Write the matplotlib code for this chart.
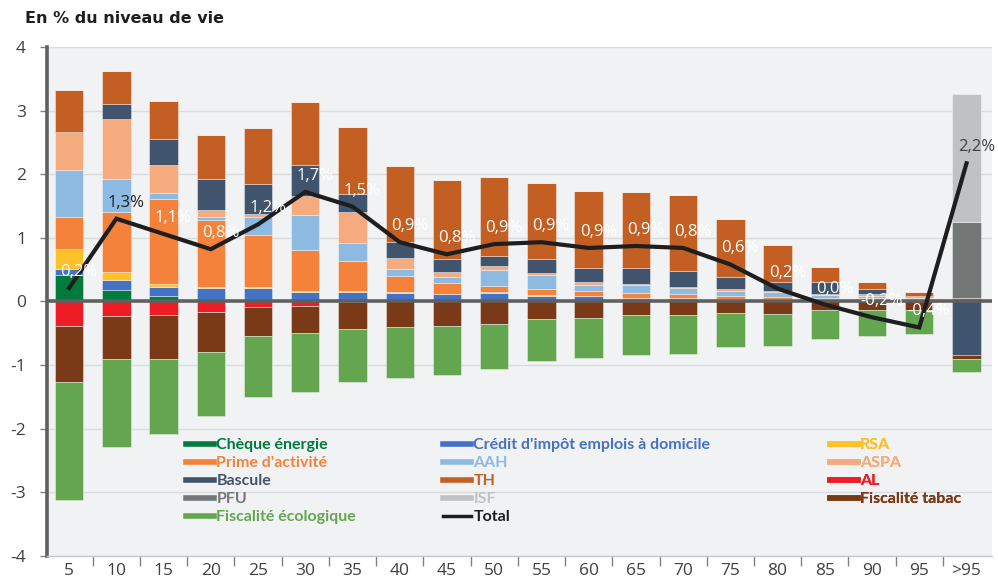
import matplotlib.pyplot as plt
from matplotlib.lines import Line2D
import numpy as np

plt.rcParams['axes.unicode_minus'] = False

# categories (centiles of niveau de vie)
categories = ['5', '10', '15', '20', '25', '30', '35', '40', '45', '50',
              '55', '60', '65', '70', '75', '80', '85', '90', '95', '>95']

# components, in % of niveau de vie
cheque  = [0.41, 0.18, 0.08, 0.02, 0.02, 0, 0, 0, 0, 0, 0, 0, 0, 0, 0, 0, 0, 0, 0, 0]
credit  = [0.10, 0.16, 0.15, 0.19, 0.19, 0.14, 0.14, 0.13, 0.11, 0.13,
           0.09, 0.08, 0.05, 0.05, 0.04, 0.04, 0.03, 0.03, 0.02, 0]
rsa     = [0.32, 0.125, 0.05, 0.02, 0.02, 0.03, 0.03, 0.01, 0.01, 0.01,
           0.01, 0.01, 0.01, 0, 0, 0, 0, 0, 0, 0]
prime   = [0.50, 0.94, 1.33, 1.05, 0.81, 0.63, 0.47, 0.26, 0.17, 0.10,
           0.10, 0.07, 0.07, 0.06, 0.04, 0.03, 0.02, 0.02, 0.02, 0.02]
aah     = [0.74, 0.52, 0.09, 0.04, 0.28, 0.56, 0.27, 0.11, 0.10, 0.25,
           0.22, 0.10, 0.12, 0.10, 0.09, 0.07, 0.05, 0.04, 0.01, 0]
aspa    = [0.57, 0.94, 0.44, 0.11, 0.06, 0.30, 0.49, 0.17, 0.07, 0.07,
           0.02, 0.04, 0.02, 0.01, 0.02, 0.02, 0.02, 0.02, 0.02, 0]
bascule = [0.02, 0.23, 0.41, 0.49, 0.47, 0.49, 0.29, 0.26, 0.21, 0.16,
           0.23, 0.22, 0.25, 0.25, 0.19, 0.15, 0.18, 0.09, 0.02, -0.85]
th      = [0.66, 0.52, 0.60, 0.70, 0.87, 0.99, 1.05, 1.19, 1.23, 1.23,
           1.19, 1.21, 1.20, 1.20, 0.92, 0.58, 0.24, 0.10, 0.05, 0.04]
pfu     = [0, 0, 0, 0, 0, 0, 0, 0, 0, 0, 0, 0, 0, 0, 0, 0, 0, 0, 0, 1.19]
isf     = [0, 0, 0, 0, 0, 0, 0, 0, 0, 0, 0, 0, 0, 0, 0, 0, 0, 0, 0, 2.01]
al      = [-0.39, -0.235, -0.22, -0.17, -0.09, -0.07, -0.01, 0, 0, 0,
           0, 0, 0, 0, 0, 0, 0, 0, 0, 0]
tabac   = [-0.88, -0.67, -0.69, -0.62, -0.45, -0.42, -0.42, -0.40, -0.38, -0.35,
           -0.28, -0.26, -0.21, -0.22, -0.19, -0.20, -0.13, -0.13, -0.13, -0.05]
ecolo   = [-1.85, -1.39, -1.18, -1.01, -0.97, -0.94, -0.84, -0.80, -0.77, -0.71,
           -0.65, -0.63, -0.63, -0.60, -0.53, -0.50, -0.46, -0.42, -0.39, -0.21]

total = [0.21, 1.30, 1.06, 0.82, 1.21, 1.72, 1.49, 0.93, 0.74, 0.90,
         0.93, 0.84, 0.87, 0.84, 0.58, 0.20, -0.05, -0.25, -0.41, 2.17]
total_labels = ['0,2%', '1,3%', '1,1%', '0,8%', '1,2%', '1,7%', '1,5%', '0,9%', '0,8%', '0,9%',
                '0,9%', '0,9%', '0,9%', '0,8%', '0,6%', '0,2%', '0,0%', '-0,2%', '-0,4%', '2,2%']

colors = {
    'Chèque énergie': '#007A3D',
    "Crédit d'impôt emplois à domicile": '#4472C4',
    'RSA': '#FFC12A',
    "Prime d'activité": '#F4823A',
    'AAH': '#8DBAE0',
    'ASPA': '#F5AB7E',
    'Bascule': '#41546E',
    'TH': '#C45F24',
    'AL': '#EE1C25',
    'PFU': '#737876',
    'ISF': '#C0C1C3',
    'Fiscalité tabac': '#7A3A18',
    'Fiscalité écologique': '#63A64F',
}

x = np.arange(len(categories))
width = 0.6

fig = plt.figure(figsize=(9.98, 5.79), dpi=100)
fig.patch.set_facecolor('white')
ax = fig.add_axes([0.047, 0.040, 0.947, 0.879])
ax.set_facecolor('#F1F2F4')

edge = dict(edgecolor=(1, 1, 1, 0.45), linewidth=0.6, width=width, zorder=2)

# positive stack
pos_series = [('Chèque énergie', cheque), ("Crédit d'impôt emplois à domicile", credit),
              ('RSA', rsa), ("Prime d'activité", prime), ('AAH', aah), ('ASPA', aspa),
              ('Bascule', bascule), ('TH', th), ('PFU', pfu), ('ISF', isf)]
bottom = np.zeros(len(x))
for name, vals in pos_series:
    v = np.clip(np.array(vals, dtype=float), 0, None)
    ax.bar(x, v, bottom=bottom, color=colors[name], **edge)
    bottom += v

# negative stack
neg_series = [('AL', al), ('Bascule', bascule), ('Fiscalité tabac', tabac),
              ('Fiscalité écologique', ecolo)]
bottom = np.zeros(len(x))
for name, vals in neg_series:
    v = np.clip(np.array(vals, dtype=float), None, 0)
    ax.bar(x, v, bottom=bottom, color=colors[name], **edge)
    bottom += v

# total line
ax.plot(x, total, color='#1E1E1E', lw=3.0, zorder=4, solid_joinstyle='miter')
for i, (xi, yi) in enumerate(zip(x, total)):
    if total_labels[i] == '1,3%':
        c = '#1E1E1E'
    elif total_labels[i] == '2,2%':
        c = '#404040'
    else:
        c = 'white'
    ax.annotate(total_labels[i], (xi, yi), xytext=(7, 11.5), textcoords='offset points',
                ha='center', va='center', fontsize=12, color=c,
                family=['Open Sans', 'DejaVu Sans'], zorder=5)

# axes styling
ax.set_xlim(-0.47, 19.54)
ax.set_ylim(-4, 4)
ax.set_yticks(range(-4, 5))
ax.yaxis.grid(True, color='#DADBDD', lw=1.0, zorder=0)
ax.set_axisbelow(True)
ax.axhline(0, color='#606060', lw=2.6, zorder=3)

ax.set_xticks(x)
ax.set_xticklabels(categories)
ax.set_xticks(np.arange(len(x) - 1) + 0.5, minor=True)
ax.tick_params(axis='x', which='major', length=0, pad=5, labelsize=12.5, labelcolor='#404040')
ax.tick_params(axis='x', which='minor', length=7, width=1, color='#808080', direction='out')
ax.tick_params(axis='y', length=5, width=1, color='#808080', labelsize=12.5,
               labelcolor='#404040', pad=10)
for lab in ax.get_xticklabels() + ax.get_yticklabels():
    lab.set_family(['Open Sans', 'DejaVu Sans'])

for s in ['top', 'right']:
    ax.spines[s].set_visible(False)
ax.spines['left'].set_color('#606060')
ax.spines['left'].set_linewidth(2.6)
ax.spines['bottom'].set_color('#C8C8C8')
ax.spines['bottom'].set_linewidth(1)

fig.text(0.025, 0.968, 'En % du niveau de vie', fontsize=11.5, fontweight='bold',
         color='#1E1E1E', va='center', ha='left')

# legend, three columns placed separately
legend_cols = [
    ['Chèque énergie', "Prime d'activité", 'Bascule', 'PFU', 'Fiscalité écologique'],
    ["Crédit d'impôt emplois à domicile", 'AAH', 'TH', 'ISF', 'Total'],
    ['RSA', 'ASPA', 'AL', 'Fiscalité tabac'],
]
col_x = [0.1387, 0.4107, 0.8200]
for names, cx in zip(legend_cols, col_x):
    handles = []
    for n in names:
        if n == 'Total':
            handles.append(Line2D([0], [0], color='#1E1E1E', lw=2.5))
        else:
            handles.append(Line2D([0], [0], color=colors[n], lw=4))
    leg = ax.legend(handles, names, frameon=False,
                    loc='upper left', bbox_to_anchor=(cx, 0.247),
                    prop={'family': ['Lato', 'DejaVu Sans'], 'weight': 'bold', 'size': 11.5},
                    handlelength=1.75, handletextpad=0.15, labelspacing=0.24, borderpad=0)
    for txt, n in zip(leg.get_texts(), names):
        txt.set_color('#1E1E1E' if n == 'Total' else colors[n])
    ax.add_artist(leg)

plt.savefig('out.png', dpi=100, facecolor=fig.get_facecolor())
